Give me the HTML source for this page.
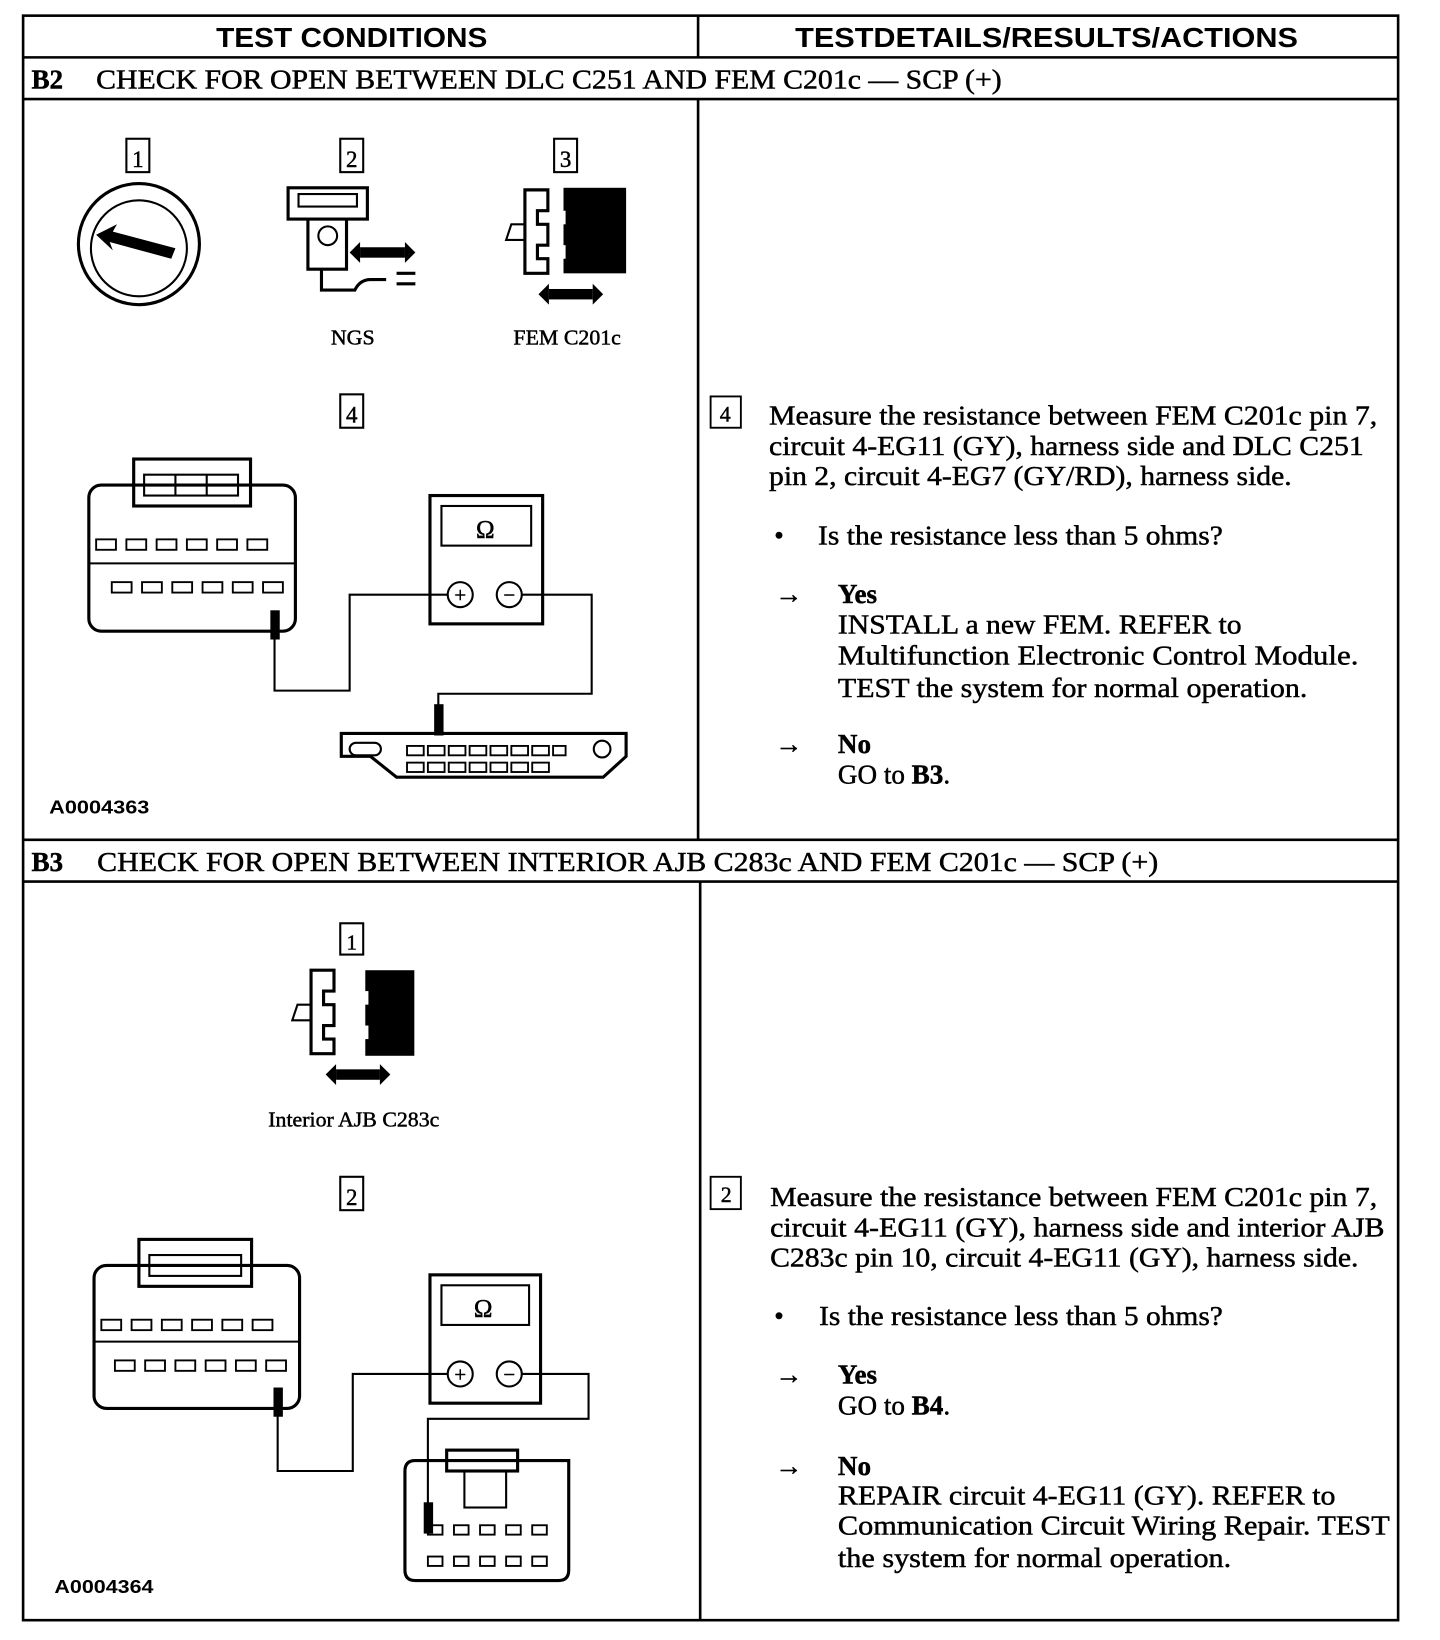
<!DOCTYPE html>
<html><head><meta charset="utf-8"><style>
html,body{margin:0;padding:0;background:#fff;}
svg{display:block;}
.s{font-family:"Liberation Serif",serif;fill:#000;stroke:#000;stroke-width:0.45;}
.h{font-family:"Liberation Sans",sans-serif;font-weight:bold;fill:#000;}
</style></head><body>
<svg width="1440" height="1640" viewBox="0 0 1380 1572" xmlns="http://www.w3.org/2000/svg">
<g fill="none" stroke="#000" stroke-width="2.5">
<rect x="22" y="15" width="1318" height="1538"/>
<line x1="22" y1="55" x2="1340" y2="55"/>
<line x1="22" y1="95" x2="1340" y2="95"/>
<line x1="22" y1="805" x2="1340" y2="805"/>
<line x1="22" y1="845" x2="1340" y2="845"/>
<line x1="669" y1="15" x2="669" y2="55"/>
<line x1="669" y1="95" x2="669" y2="805"/>
<line x1="671" y1="845" x2="671" y2="1553"/>
</g>
<text class="h" x="207" y="45" font-size="27" textLength="260" lengthAdjust="spacingAndGlyphs">TEST CONDITIONS</text>
<text class="h" x="762" y="45" font-size="27" textLength="482" lengthAdjust="spacingAndGlyphs">TESTDETAILS/RESULTS/ACTIONS</text>
<text class="s" x="30" y="85" font-size="26" font-weight="bold">B2</text>
<text class="s" x="92" y="85" font-size="26" textLength="868" lengthAdjust="spacingAndGlyphs">CHECK FOR OPEN BETWEEN DLC C251 AND FEM C201c — SCP (+)</text>
<text class="s" x="30" y="835" font-size="26" font-weight="bold">B3</text>
<text class="s" x="93" y="835" font-size="26" textLength="1017" lengthAdjust="spacingAndGlyphs">CHECK FOR OPEN BETWEEN INTERIOR AJB C283c AND FEM C201c — SCP (+)</text>

<g fill="none" stroke="#000" stroke-width="2">
<rect x="121" y="133" width="22" height="32"/><rect x="326" y="133" width="22" height="32"/><rect x="531" y="133" width="22" height="32"/>
<rect x="326" y="378" width="22" height="32"/>
<circle cx="133" cy="234" r="58" stroke-width="3"/><circle cx="133" cy="238" r="46"/>
<rect x="276" y="180" width="76" height="30" stroke-width="3"/><rect x="286" y="186" width="56" height="12"/>
<path d="M295 210 V258 H332 V210" stroke-width="3"/><circle cx="314" cy="226" r="9"/>
<path d="M308 258 V278 H340 Q345 268 355 268 H370 M380 262 H398 M380 272 H398" stroke-width="3"/>
<path d="M503 182 H525 V202 H515 V215 H525 V235 H515 V248 H525 V262 H503 Z" stroke-width="3"/>
<path d="M503 215 H490 L485 230 H503"/>
<rect x="85" y="465" width="198" height="140" rx="12" stroke-width="3"/>
<rect x="128" y="440" width="112" height="45" stroke-width="3"/><rect x="138" y="455" width="90" height="20"/>
<line x1="168" y1="455" x2="168" y2="475"/><line x1="198" y1="455" x2="198" y2="475"/>
<line x1="85" y1="540" x2="283" y2="540"/>
<rect x="412" y="475" width="108" height="123" stroke-width="3"/><rect x="423" y="485" width="86" height="38"/>
<circle cx="441" cy="570" r="12"/><circle cx="488" cy="570" r="12"/>
<path d="M263 596 V662 H335 V570 H429 M500 570 H567 V665 H420 V680"/>
<path d="M327 703 H600 V725 L578 745 H380 L355 725 H327 Z" stroke-width="3"/>
<rect x="335" y="712" width="30" height="12" rx="6"/><circle cx="577" cy="718" r="8"/>
<rect x="326" y="885" width="22" height="30"/><rect x="326" y="1128" width="22" height="32"/>
<path d="M298 930 H320 V950 H310 V963 H320 V983 H310 V996 H320 V1010 H298 Z" stroke-width="3"/>
<path d="M298 963 H285 L280 978 H298"/>
<rect x="90" y="1213" width="197" height="137" rx="12" stroke-width="3"/>
<rect x="133" y="1188" width="108" height="45" stroke-width="3"/><rect x="143" y="1203" width="88" height="20"/>
<line x1="90" y1="1286" x2="287" y2="1286"/>
<rect x="412" y="1222" width="106" height="123" stroke-width="3"/><rect x="423" y="1232" width="84" height="38"/>
<circle cx="441" cy="1317" r="12"/><circle cx="488" cy="1317" r="12"/>
<path d="M266 1345 V1410 H338 V1317 H429 M500 1317 H564 V1360 H410 V1470"/>
<path d="M398 1400 H545 V1505 Q545 1515 535 1515 H398 Q388 1515 388 1505 V1410 Q388 1400 398 1400 Z" stroke-width="3"/>
<rect x="428" y="1390" width="68" height="20" stroke-width="3"/><rect x="445" y="1410" width="40" height="35"/>
</g>
<g fill="#000">
<text class="s" x="132" y="160" font-size="22" text-anchor="middle">1</text>
<text class="s" x="337" y="160" font-size="22" text-anchor="middle">2</text>
<text class="s" x="542" y="160" font-size="22" text-anchor="middle">3</text>
<text class="s" x="337" y="405" font-size="22" text-anchor="middle">4</text>
<polygon points="92,225 112,215 108,222 168,238 164,248 105,232 108,240"/>
<path d="M335 242 L345 232 V252 Z M398 242 L388 232 V252 Z"/><rect x="345" y="237" width="43" height="10"/>
<rect x="540" y="180" width="60" height="82"/><rect x="530" y="202" width="12" height="13" fill="#fff"/><rect x="530" y="235" width="12" height="13" fill="#fff"/>
<path d="M516 282 L526 272 V292 Z M578 282 L568 272 V292 Z"/><rect x="526" y="277" width="42" height="10"/>
<text class="s" x="317" y="330" font-size="20" textLength="42" lengthAdjust="spacingAndGlyphs">NGS</text>
<text class="s" x="492" y="330" font-size="20" textLength="103" lengthAdjust="spacingAndGlyphs">FEM C201c</text>
<text class="s" x="465" y="515" font-size="24" text-anchor="middle">Ω</text>
<text class="s" x="441" y="577" font-size="20" text-anchor="middle">+</text>
<text class="s" x="488" y="577" font-size="20" text-anchor="middle">−</text>
<rect x="259" y="585" width="9" height="28"/><rect x="416" y="675" width="9" height="30"/>
<text class="h" x="47" y="780" font-size="18" textLength="96" lengthAdjust="spacingAndGlyphs">A0004363</text>
<text class="s" x="337" y="910" font-size="20" text-anchor="middle">1</text>
<text class="s" x="337" y="1155" font-size="22" text-anchor="middle">2</text>
<rect x="350" y="930" width="47" height="82"/><rect x="345" y="950" width="8" height="13" fill="#fff"/><rect x="345" y="983" width="8" height="13" fill="#fff"/>
<path d="M312 1030 L322 1020 V1040 Z M374 1030 L364 1020 V1040 Z"/><rect x="322" y="1025" width="42" height="10"/>
<text class="s" x="257" y="1080" font-size="20" textLength="164" lengthAdjust="spacingAndGlyphs">Interior AJB C283c</text>
<text class="s" x="463" y="1262" font-size="24" text-anchor="middle">Ω</text>
<text class="s" x="441" y="1324" font-size="20" text-anchor="middle">+</text>
<text class="s" x="488" y="1324" font-size="20" text-anchor="middle">−</text>
<rect x="262" y="1330" width="9" height="28"/><rect x="406" y="1440" width="9" height="30"/>
<text class="h" x="52" y="1527" font-size="18" textLength="95" lengthAdjust="spacingAndGlyphs">A0004364</text>
</g>
<g fill="none" stroke="#000" stroke-width="1.8">
<g><rect x="92" y="517" width="19" height="10"/><rect x="121" y="517" width="19" height="10"/><rect x="150" y="517" width="19" height="10"/><rect x="179" y="517" width="19" height="10"/><rect x="208" y="517" width="19" height="10"/><rect x="237" y="517" width="19" height="10"/></g>
<g transform="translate(15,41)"><rect x="92" y="517" width="19" height="10"/><rect x="121" y="517" width="19" height="10"/><rect x="150" y="517" width="19" height="10"/><rect x="179" y="517" width="19" height="10"/><rect x="208" y="517" width="19" height="10"/><rect x="237" y="517" width="19" height="10"/></g>
<g transform="translate(5,748)"><rect x="92" y="517" width="19" height="10"/><rect x="121" y="517" width="19" height="10"/><rect x="150" y="517" width="19" height="10"/><rect x="179" y="517" width="19" height="10"/><rect x="208" y="517" width="19" height="10"/><rect x="237" y="517" width="19" height="10"/></g>
<g transform="translate(18,787)"><rect x="92" y="517" width="19" height="10"/><rect x="121" y="517" width="19" height="10"/><rect x="150" y="517" width="19" height="10"/><rect x="179" y="517" width="19" height="10"/><rect x="208" y="517" width="19" height="10"/><rect x="237" y="517" width="19" height="10"/></g>
<g><rect x="390" y="715" width="16" height="9"/><rect x="410" y="715" width="16" height="9"/><rect x="430" y="715" width="16" height="9"/><rect x="450" y="715" width="16" height="9"/><rect x="470" y="715" width="16" height="9"/><rect x="490" y="715" width="16" height="9"/><rect x="510" y="715" width="16" height="9"/><rect x="530" y="715" width="12" height="9"/>
<rect x="390" y="731" width="16" height="9"/><rect x="410" y="731" width="16" height="9"/><rect x="430" y="731" width="16" height="9"/><rect x="450" y="731" width="16" height="9"/><rect x="470" y="731" width="16" height="9"/><rect x="490" y="731" width="16" height="9"/><rect x="510" y="731" width="16" height="9"/></g>
<g><rect x="410" y="1462" width="14" height="9"/><rect x="435" y="1462" width="14" height="9"/><rect x="460" y="1462" width="14" height="9"/><rect x="485" y="1462" width="14" height="9"/><rect x="510" y="1462" width="14" height="9"/>
<rect x="410" y="1492" width="14" height="9"/><rect x="435" y="1492" width="14" height="9"/><rect x="460" y="1492" width="14" height="9"/><rect x="485" y="1492" width="14" height="9"/><rect x="510" y="1492" width="14" height="9"/></g>
<rect x="681" y="380" width="29" height="30"/><rect x="681" y="1128" width="29" height="31"/>
</g>
<g font-size="26">
<text class="s" x="695" y="404" font-size="21" text-anchor="middle">4</text>
<text class="s" x="737" y="407" textLength="583" lengthAdjust="spacingAndGlyphs">Measure the resistance between FEM C201c pin 7,</text>
<text class="s" x="737" y="436" textLength="570" lengthAdjust="spacingAndGlyphs">circuit 4-EG11 (GY), harness side and DLC C251</text>
<text class="s" x="737" y="465" textLength="501" lengthAdjust="spacingAndGlyphs">pin 2, circuit 4-EG7 (GY/RD), harness side.</text>
<text class="s" x="742" y="522">•</text><text class="s" x="784" y="522" textLength="388" lengthAdjust="spacingAndGlyphs">Is the resistance less than 5 ohms?</text>
<text class="s" x="743" y="578">→</text><text class="s" x="803" y="578" font-weight="bold">Yes</text>
<text class="s" x="803" y="607" textLength="387" lengthAdjust="spacingAndGlyphs">INSTALL a new FEM. REFER to</text>
<text class="s" x="803" y="637" textLength="499" lengthAdjust="spacingAndGlyphs">Multifunction Electronic Control Module.</text>
<text class="s" x="803" y="668" textLength="450" lengthAdjust="spacingAndGlyphs">TEST the system for normal operation.</text>
<text class="s" x="743" y="722">→</text><text class="s" x="803" y="722" font-weight="bold">No</text>
<text class="s" x="803" y="751">GO to <tspan font-weight="bold">B3</tspan>.</text>

<text class="s" x="696" y="1152" font-size="21" text-anchor="middle">2</text>
<text class="s" x="738" y="1156" textLength="582" lengthAdjust="spacingAndGlyphs">Measure the resistance between FEM C201c pin 7,</text>
<text class="s" x="738" y="1185" textLength="589" lengthAdjust="spacingAndGlyphs">circuit 4-EG11 (GY), harness side and interior AJB</text>
<text class="s" x="738" y="1214" textLength="564" lengthAdjust="spacingAndGlyphs">C283c pin 10, circuit 4-EG11 (GY), harness side.</text>
<text class="s" x="742" y="1270">•</text><text class="s" x="785" y="1270" textLength="387" lengthAdjust="spacingAndGlyphs">Is the resistance less than 5 ohms?</text>
<text class="s" x="743" y="1326">→</text><text class="s" x="803" y="1326" font-weight="bold">Yes</text>
<text class="s" x="803" y="1356">GO to <tspan font-weight="bold">B4</tspan>.</text>
<text class="s" x="743" y="1414">→</text><text class="s" x="803" y="1414" font-weight="bold">No</text>
<text class="s" x="803" y="1442" textLength="477" lengthAdjust="spacingAndGlyphs">REPAIR circuit 4-EG11 (GY). REFER to</text>
<text class="s" x="803" y="1471" textLength="529" lengthAdjust="spacingAndGlyphs">Communication Circuit Wiring Repair. TEST</text>
<text class="s" x="803" y="1502" textLength="377" lengthAdjust="spacingAndGlyphs">the system for normal operation.</text>
</g>
</svg>
</body></html>
